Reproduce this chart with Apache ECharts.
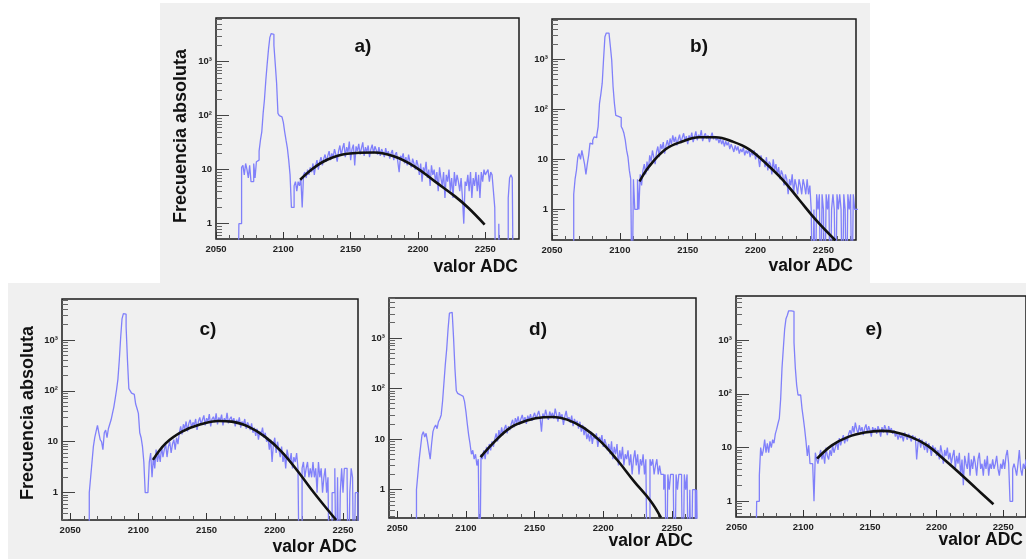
<!DOCTYPE html>
<html><head><meta charset="utf-8">
<script src="https://cdn.jsdelivr.net/npm/echarts@6/dist/echarts.min.js"></script>
<style>html,body{margin:0;padding:0;background:#fff}#c{width:1026px;height:559px}</style>
</head><body><div id="c"></div>
<script>
// ---- data (bin low edge = binStart + index, bin width 1 ADC) ----
const binStart = 2060;
const countsA = [
 0,0,0,0,0,0,0,1,1,11,
 12,8,13,10,7,12,6,6,13,7,
 14,15,22,35,50,110,200,450,900,1700,
 2800,3300,3200,2000,900,400,110,100,95,90,
 75,50,35,25,15,8,2,2,5,6,
 4,6,5,7,2,8,9,7,10,8,
 11,9,13,8,12,15,10,14,17,12,
 16,19,14,18,22,15,20,17,24,19,
 14,22,28,18,25,31,17,26,21,33,
 15,24,29,12,27,22,30,19,25,32,
 18,26,21,28,17,24,29,20,27,23,
 19,26,18,24,21,17,25,19,22,16,
 20,23,15,19,21,14,9,18,16,20,
 13,17,12,19,14,11,16,13,10,15,
 12,8,13,6,11,9,14,7,10,5,
 12,8,10,6,9,4,11,7,5,9,
 3,8,6,10,4,7,3,9,5,8,
 6,4,7,3,1,6,5,8,4,9,
 3,7,5,9,4,8,3,9,6,10,
 8,9,10,6,9,8,4,2,0,0,
 1,0,0,0,0,0,0,3,7,8,
 7,0,0,0,0,0];
const countsB = [
 0,0,0,0,0,0,2,4,6,11,
 13,10,15,11,8,5,8,12,21,20,
 24,28,27,30,45,130,200,330,1000,2800,
 3300,3300,3100,1800,950,280,130,75,72,70,
 68,45,40,33,24,15,11,6,4,0,
 4,1,1,4,1,5,3,6,8,5,
 9,6,12,9,15,11,8,14,18,11,
 20,16,22,13,19,24,17,26,20,30,
 22,28,19,25,31,21,27,33,23,29,
 20,30,25,34,22,28,36,24,31,27,
 38,23,29,33,26,30,22,28,34,25,
 29,24,27,21,26,20,24,18,23,19,
 22,16,20,17,14,19,15,18,13,16,
 14,17,12,15,13,16,11,14,12,15,
 10,13,11,7,12,9,10,7,11,6,
 9,8,5,10,6,8,5,7,4,6,
 5,3,5,4,2,4,3,5,2,4,
 3,2,4,3,2,4,3,2,4,2,
 3,1,0,1,0,2,1,2,0,2,
 1,0,2,1,2,0,1,2,1,0,
 2,1,2,1,0,2,1,0,2,1,
 2,0,2,1,1,1];
const countsC = [
 0,0,0,0,1,2,4,8,12,16,
 21,15,11,10,7,15,17,12,18,22,
 27,36,48,70,105,170,400,1100,2600,3300,
 3200,1800,400,110,100,90,85,80,55,45,
 36,15,12,8,4,1,1,1,4,6,
 2,5,3,7,4,6,4,8,5,7,
 9,5,8,10,6,9,11,7,12,9,
 15,20,14,22,18,25,16,23,27,19,
 24,21,28,17,25,30,22,27,33,21,
 29,25,35,20,28,31,24,36,22,30,
 26,34,21,29,25,37,23,28,31,24,
 29,20,27,23,30,19,25,22,28,18,
 24,21,17,23,15,19,13,18,11,16,
 14,19,12,15,10,12,7,11,4,9,
 12,6,10,7,5,8,4,6,3,7,
 5,4,6,3,5,4,6,3,0,0,
 3,4,2,3,4,2,3,2,4,2,
 3,1,4,2,3,1,2,3,1,2,
 0,0,1,1,3,0,2,0,1,3,
 1,3,3,2,0,1,3,2,0,1,
 1,0,0,0,0,0,0,0,0,0,
 0,0,0,0,0,0];
const countsD = [
 0,0,0,0,1,2,4,7,12,14,
 11,13,9,6,4,8,14,17,19,16,
 22,25,30,56,130,300,600,1500,3100,3200,
 3100,1000,250,90,80,75,78,70,65,55,
 35,20,12,8,5,6,4,5,3,4,
 0,5,4,6,4,7,5,8,6,9,
 7,10,13,9,15,11,17,12,16,19,
 13,18,15,20,24,17,26,21,28,19,
 25,30,22,27,20,29,24,31,23,28,
 33,25,30,36,27,14,32,26,38,29,
 24,35,28,33,25,40,30,22,34,27,
 31,19,28,36,24,27,21,29,18,25,
 20,23,16,22,14,19,12,17,10,13,
 9,14,8,12,10,13,7,11,9,12,
 7,10,8,6,8,5,9,4,7,5,
 8,3,6,4,7,3,5,4,6,3,
 5,2,4,6,3,5,2,4,3,5,
 2,4,0,0,4,3,4,2,3,4,
 2,3,2,2,1,2,0,2,1,2,
 2,1,0,2,1,2,2,1,0,2,
 1,2,0,1,0,1,1,0,1,0,
 0,0,0,0,0,0];
const countsE = [
 0,0,0,0,0,1,1,3,10,7,
 9,14,8,12,8,13,10,14,12,18,
 22,28,35,80,300,700,1600,2500,2900,3500,
 3500,3500,3400,900,300,145,95,95,90,53,
 35,22,13,7,11,5,5,5,1,8,
 6,5,7,9,6,8,5,10,7,6,
 9,7,11,8,10,13,9,15,11,14,
 17,12,16,13,18,21,17,25,19,29,
 22,18,26,20,24,17,23,27,19,25,
 21,16,24,20,23,18,25,21,16,24,
 19,26,22,17,25,20,23,18,21,16,
 19,14,18,15,17,13,19,16,14,18,
 15,13,17,14,16,6,12,15,10,14,
 11,9,13,8,12,10,7,11,9,10,
 7,9,6,11,8,5,9,7,10,6,
 8,5,7,9,4,7,5,8,3,6,
 2,7,5,4,8,3,6,4,7,5,
 3,6,8,4,5,3,6,4,7,3,
 5,4,6,4,5,7,4,3,5,4,
 6,4,7,9,5,1,1,4,5,4,
 3,5,9,4,3,5,4,6,3,5,
 4,5,3,4,5,3];

// fitted curves, points
const fitAx = [2112.5, 2122, 2132.5, 2147.5, 2167.5, 2182.5, 2197.5, 2212.5, 2227.5, 2237.5, 2249.5];
const fitAy = [6.5, 10.5, 15.2, 19.6, 20.8, 17.5, 11.4, 6.05, 3.2, 1.95, 0.96];
const fitBx = [2114.5, 2121.4, 2133.7, 2146, 2158.4, 2170.7, 2183, 2195.3, 2207.6, 2220, 2232.3, 2244.6, 2258.9];
const fitBy = [3.6, 7.1, 15.8, 22.6, 27.5, 27.5, 22.6, 15.8, 8.3, 3.9, 1.54, 0.61, 0.24];
const fitCx = [2110.7, 2120, 2132, 2144, 2158.7, 2168.4, 2180.6, 2192.7, 2204.9, 2217, 2229, 2241, 2245];
const fitCy = [4.4, 9.3, 15.8, 21.3, 25.5, 24.8, 19.8, 12.6, 6.4, 2.6, 0.97, 0.39, 0.29];
const fitDx = [2110.7, 2120, 2132.2, 2144.4, 2156.6, 2164, 2173.7, 2185.9, 2198, 2210, 2222.4, 2234.6, 2242];
const fitDy = [4.4, 8.4, 16.6, 23.2, 27, 27.3, 24.2, 16.6, 9, 3.9, 1.46, 0.59, 0.28];
const fitEx = [2110.3, 2121.4, 2133.7, 2146, 2158.4, 2168.2, 2180.5, 2192.9, 2205, 2217.5, 2229.8, 2242.6];
const fitEy = [6.2, 11, 15.8, 19, 20.4, 19.5, 15.8, 11, 6.2, 3.3, 1.72, 0.88];

const xTicks = [2050, 2100, 2150, 2200, 2250];
const yTicks = [1, 10, 100, 1000];
const yTickLabels = ['1', '10', '10²', '10³'];
const panelNames = ['a)', 'b)', 'c)', 'd)', 'e)'];
const xTitle = 'valor ADC';
const yTitle = 'Frecuencia absoluta';

// ---- layout / style ----
const FONT = '"Liberation Sans", Arial, Helvetica, sans-serif';
const HIST_COLOR = '#8080fa';
const panels = [
  {counts: countsA, fx: fitAx, fy: fitAy, left: 216, top: 18, width: 303, height: 221, xMin: 2050, xMax: 2275, yMin: 0.52, yMax: 6400, lab: [363, 47], xt: [518, 267], yt: [181, 136]},
  {counts: countsB, fx: fitBx, fy: fitBy, left: 552, top: 19, width: 304, height: 221, xMin: 2050, xMax: 2274, yMin: 0.245, yMax: 6300, lab: [699, 47], xt: [853, 266]},
  {counts: countsC, fx: fitCx, fy: fitCy, left: 62, top: 299, width: 296, height: 221, xMin: 2044, xMax: 2261, yMin: 0.29, yMax: 6370, lab: [208, 330], xt: [357, 547], yt: [28, 413]},
  {counts: countsD, fx: fitDx, fy: fitDy, left: 389, top: 298, width: 307, height: 220, xMin: 2044, xMax: 2267.5, yMin: 0.275, yMax: 6150, lab: [538, 330], xt: [693, 541]},
  {counts: countsE, fx: fitEx, fy: fitEy, left: 736, top: 296, width: 294, height: 221, xMin: 2049.5, xMax: 2267, yMin: 0.51, yMax: 6600, lab: [874, 330], xt: [1023, 540]}
];

const ZERO_FLOOR = 0.01; // empty bins drawn down past the axis bottom (log axis cannot show 0)
const grids = [], xAxes = [], yAxes = [], series = [], graphics = [];

graphics.push({type: 'rect', z: -10, silent: true, shape: {x: 160, y: 3, width: 710, height: 281}, style: {fill: '#f0f0f0'}});
graphics.push({type: 'rect', z: -10, silent: true, shape: {x: 8, y: 283, width: 1018, height: 276}, style: {fill: '#f0f0f0'}});

panels.forEach((p, i) => {
  grids.push({left: p.left, top: p.top, width: p.width, height: p.height, show: true,
    backgroundColor: 'transparent', borderColor: '#1a1a1a', borderWidth: 1.5});
  const minorX = [];
  for (let v = 2040; v <= 2280; v += 10) if (v % 50 !== 0 && v > p.xMin && v < p.xMax) minorX.push(v);
  const minorY = [];
  [0.1, 1, 10, 100, 1000].forEach(d => { for (let k = 2; k <= 9; k++) { const v = k * d; if (v > p.yMin && v < p.yMax) minorY.push(v); } });
  const labelStyle = {fontSize: 9.5, fontWeight: 'bold', color: '#222', fontFamily: FONT};
  xAxes.push({type: 'value', gridIndex: i, position: 'bottom', min: p.xMin, max: p.xMax,
    axisLine: {show: false}, splitLine: {show: false},
    axisTick: {show: true, inside: true, length: 7, customValues: xTicks, lineStyle: {color: '#333', width: 1}},
    axisLabel: Object.assign({customValues: xTicks, margin: 5, formatter: v => String(v)}, labelStyle)});
  xAxes.push({type: 'value', gridIndex: i, position: 'bottom', min: p.xMin, max: p.xMax,
    axisLine: {show: false}, splitLine: {show: false}, axisLabel: {show: false},
    axisTick: {show: true, inside: true, length: 4, customValues: minorX, lineStyle: {color: '#555', width: 1}}});
  yAxes.push({type: 'log', logBase: 10, gridIndex: i, position: 'left', min: p.yMin, max: p.yMax,
    axisLine: {show: false}, splitLine: {show: false},
    axisTick: {show: true, inside: true, length: 13, lineStyle: {color: '#444', width: 1}},
    axisLabel: Object.assign({showMinLabel: false, showMaxLabel: false, margin: 4,
      formatter: v => { const k = yTicks.indexOf(Math.round(v)); return k >= 0 ? yTickLabels[k] : ''; }}, labelStyle)});
  yAxes.push({type: 'log', logBase: 10, gridIndex: i, position: 'left', min: p.yMin, max: p.yMax,
    axisLine: {show: false}, splitLine: {show: false}, axisLabel: {show: false},
    axisTick: {show: true, inside: true, length: 6, customValues: minorY, lineStyle: {color: '#666', width: 1}}});

  const hist = p.counts.map((c, k) => [binStart + k, c > 0 ? c : ZERO_FLOOR]);
  hist.push([binStart + p.counts.length, hist[hist.length - 1][1]]);
  series.push({type: 'line', name: 'hist' + i, xAxisIndex: 2 * i, yAxisIndex: 2 * i, data: hist,
    step: 'end', symbol: 'none', clip: true, silent: true,
    lineStyle: {color: HIST_COLOR, width: 1.3}, z: 2});
  series.push({type: 'line', name: 'fit' + i, xAxisIndex: 2 * i, yAxisIndex: 2 * i,
    data: p.fx.map((x, k) => [x, p.fy[k]]), smooth: 0.4, symbol: 'none', clip: true, silent: true,
    lineStyle: {color: '#111', width: 2.6}, z: 3});

  graphics.push({type: 'text', x: p.lab[0], y: p.lab[1], style: {text: panelNames[i], font: 'bold 19px ' + FONT, fill: '#111', textAlign: 'center', textVerticalAlign: 'middle', align: 'center', verticalAlign: 'middle'}});
  graphics.push({type: 'text', x: p.xt[0], y: p.xt[1], style: {text: xTitle, font: 'bold 17.5px ' + FONT, fill: '#111', textAlign: 'right', textVerticalAlign: 'middle', align: 'right', verticalAlign: 'middle'}});
  if (p.yt) graphics.push({type: 'text', x: p.yt[0], y: p.yt[1], rotation: Math.PI / 2, style: {text: yTitle, font: 'bold 18px ' + FONT, fill: '#111', textAlign: 'center', textVerticalAlign: 'middle', align: 'center', verticalAlign: 'middle'}});
});

const chart = echarts.init(document.getElementById('c'), null, {renderer: 'canvas'});
chart.setOption({
  animation: false,
  backgroundColor: '#ffffff',
  grid: grids, xAxis: xAxes, yAxis: yAxes, series: series,
  graphic: graphics
});
</script></body></html>
